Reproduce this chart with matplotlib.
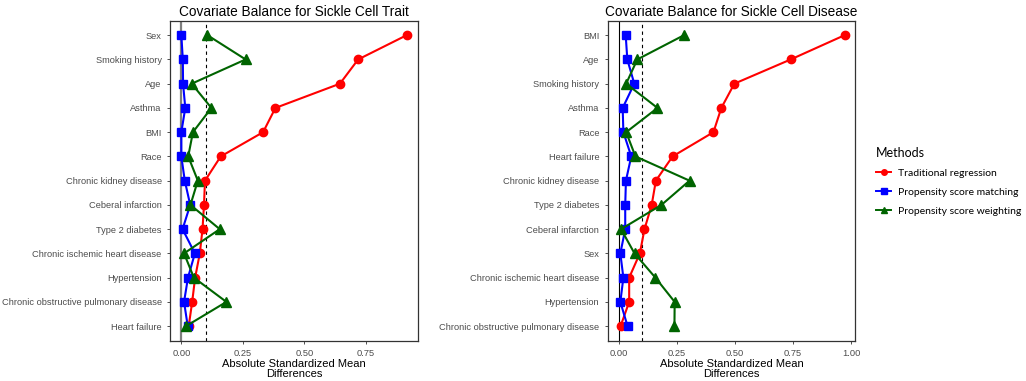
import numpy as np
import matplotlib.pyplot as plt
from matplotlib.lines import Line2D

# Sickle Cell Trait (left panel), top to bottom
trait_cov = ["Sex", "Smoking history", "Age", "Asthma", "BMI", "Race",
             "Chronic kidney disease", "Ceberal infarction", "Type 2 diabetes",
             "Chronic ischemic heart disease", "Hypertension",
             "Chronic obstructive pulmonary disease", "Heart failure"]
trait_reg = [0.915, 0.718, 0.644, 0.382, 0.332, 0.160, 0.096, 0.092, 0.086,
             0.075, 0.056, 0.044, 0.030]
trait_psm = [0.000, 0.006, 0.007, 0.016, 0.000, 0.000, 0.014, 0.036, 0.005,
             0.055, 0.027, 0.011, 0.026]
trait_psw = [0.106, 0.261, 0.042, 0.122, 0.047, 0.028, 0.067, 0.037, 0.156,
             0.011, 0.051, 0.183, 0.019]

# Sickle Cell Disease (right panel), top to bottom
disease_cov = ["BMI", "Age", "Smoking history", "Asthma", "Race", "Heart failure",
               "Chronic kidney disease", "Type 2 diabetes", "Ceberal infarction",
               "Sex", "Chronic ischemic heart disease", "Hypertension",
               "Chronic obstructive pulmonary disease"]
disease_reg = [0.972, 0.740, 0.497, 0.441, 0.407, 0.231, 0.159, 0.141, 0.110,
               0.090, 0.044, 0.044, 0.007]
disease_psm = [0.029, 0.036, 0.066, 0.016, 0.019, 0.053, 0.030, 0.027, 0.027,
               0.006, 0.019, 0.006, 0.037]
disease_psw = [0.280, 0.079, 0.031, 0.166, 0.031, 0.071, 0.304, 0.183, 0.009,
               0.067, 0.157, 0.240, 0.239]

METHODS = ["Traditional regression", "Propensity score matching",
           "Propensity score weighting"]
COLORS = ["#FF0000", "#0000FF", "#006400"]
MARKERS = ["o", "s", "^"]
TICK_GREY = "#4D4D4D"

plt.rcParams["font.family"] = ["Liberation Sans", "DejaVu Sans"]

fig = plt.figure(figsize=(10.26, 3.81), dpi=100)
ax_l = fig.add_axes([0.1657, 0.1058, 0.2417, 0.840])
ax_r = fig.add_axes([0.5923, 0.1058, 0.2413, 0.840])


def panel(ax, cov, series, title, xlim, xticks, zero_color, zero_lw):
    y = np.arange(len(cov))
    ax.axvline(0, color=zero_color, lw=zero_lw, zorder=1)
    ax.axvline(0.1, color="black", lw=0.8, ls=(0, (3, 3)), zorder=1)
    for vals, col, mk in zip(series, COLORS, MARKERS):
        ax.plot(vals, y, color=col, lw=1.5, marker=mk, ms=6 if mk != "^" else 6.5,
                zorder=3)
    ax.set_yticks(y)
    ax.set_yticklabels(cov)
    ax.set_ylim(len(cov) - 0.4, -0.6)
    ax.set_xlim(*xlim)
    ax.set_xticks(xticks)
    ax.set_xticklabels([f"{t:.2f}" for t in xticks])
    ax.tick_params(colors="#333333", labelcolor=TICK_GREY, labelsize=6.7,
                   length=2.5, width=0.6)
    for sp in ax.spines.values():
        sp.set_color("#333333")
        sp.set_linewidth(0.9)
    ax.set_xlabel("Absolute Standardized Mean\nDifferences", fontsize=8,
                  color="black", labelpad=1, linespacing=0.95)
    ax.set_title(title, fontsize=9.8, pad=3)


panel(ax_l, trait_cov, [trait_reg, trait_psm, trait_psw],
      "Covariate Balance for Sickle Cell Trait", (-0.046, 0.961),
      [0.0, 0.25, 0.5, 0.75], "#7F7F7F", 1.6)
panel(ax_r, disease_cov, [disease_reg, disease_psm, disease_psw],
      "Covariate Balance for Sickle Cell Disease", (-0.0485, 1.018),
      [0.0, 0.25, 0.5, 0.75, 1.0], "black", 0.8)

handles = [Line2D([], [], color=c, marker=m, lw=1.4, ms=4) for c, m in zip(COLORS, MARKERS)]
leg = fig.legend(handles, METHODS, title="Methods", loc="upper left",
                 bbox_to_anchor=(0.845, 0.64), frameon=False,
                 prop={"family": "Lato", "size": 7.5}, handlelength=1.4,
                 handletextpad=0.7, labelspacing=0.95)
leg.get_title().set_fontfamily("Lato")
leg.get_title().set_fontsize(9)
leg._legend_box.align = "left"
leg._legend_box.sep = 7

fig.savefig("out.png", dpi=100, facecolor="white")
